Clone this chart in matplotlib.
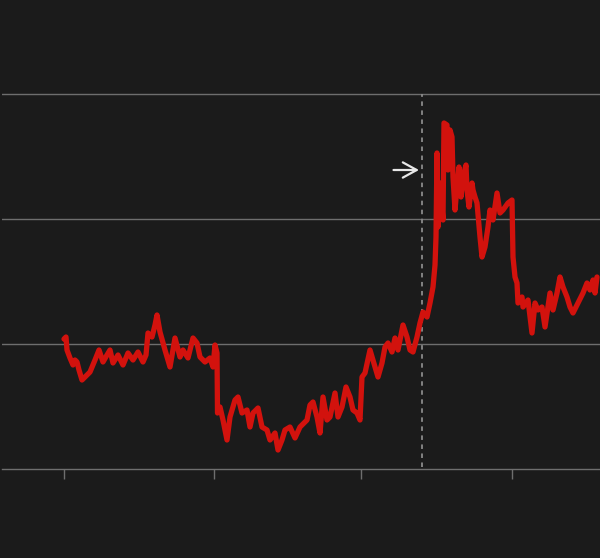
import matplotlib
matplotlib.use("Agg")
import matplotlib.pyplot as plt

# Data (x in time units, y in value units; gridlines every 125)
x = [64, 66, 67, 70, 73, 75, 77, 79, 82, 85, 90, 95, 99, 103, 107, 110, 113, 118, 123, 128,
     133, 138, 143, 146, 148, 152, 155, 157, 160, 165, 170, 175, 180, 183, 188, 193, 197, 200,
     205, 210, 213, 215, 217, 217.5, 220, 223, 227, 230, 235, 238, 242, 247, 250, 253, 258, 262,
     267, 270, 275, 278, 282, 285, 290, 295, 300, 307, 310, 313, 317, 320, 323, 327, 330, 335,
     338, 342, 346, 350, 353, 357, 360, 362, 365, 370, 373, 378, 382, 385, 388, 392, 395, 398,
     403, 407, 410, 413, 417, 420, 423, 427, 430, 433, 435, 436, 437, 438, 440, 443, 444, 447,
     448, 450, 452, 453, 455, 457, 459, 461, 463, 466, 467, 469, 472, 473, 475, 477, 480, 482,
     485, 488, 490, 493, 497, 500, 503, 508, 512, 513, 515, 517, 518, 522, 523, 528, 532, 535,
     538, 542, 545, 550, 553, 557, 560, 563, 567, 570, 573, 578, 583, 587, 590, 593, 595, 597]
y = [130, 132, 119, 111, 104, 109, 107, 99, 89, 92, 97, 109, 119, 107, 114, 119, 106, 114, 104, 116,
     109, 117, 107, 114, 136, 132, 144, 154, 137, 119, 102, 131, 112, 119, 111, 131, 126, 112,
     107, 111, 102, 124, 116, 56, 62, 49, 29, 52, 69, 72, 56, 59, 42, 56, 61, 42,
     39, 29, 36, 19, 29, 39, 42, 31, 42, 49, 64, 67, 52, 36, 72, 49, 52, 76,
     52, 62, 82, 72, 59, 56, 49, 92, 96, 119, 109, 92, 106, 122, 126, 117, 131, 119,
     144, 132, 119, 117, 132, 146, 157, 152, 166, 182, 204, 232, 316, 242, 286, 249, 346, 344,
     299, 339, 332, 292, 259, 282, 302, 272, 292, 304, 279, 262, 286, 279, 272, 266, 232, 212,
     222, 242, 259, 249, 276, 256, 259, 266, 269, 212, 192, 186, 166, 172, 162, 169, 136, 166,
     159, 162, 142, 176, 159, 176, 192, 182, 172, 162, 156, 166, 176, 186, 179, 189, 176, 192]
x_ticks = [64, 214, 361, 512]
y_grid = [125, 250, 375]
event_x = 421.5
arrow_y = 299

BG = "#1b1b1b"
GRID = "#6e6e6e"
RED = "#d2120d"

fig = plt.figure(figsize=(6, 5.58), dpi=100, facecolor=BG)
top_val = 400
ax = fig.add_axes([2 / 600, 89 / 558, 598 / 600, (top_val) / 558])
ax.set_facecolor(BG)
ax.set_xlim(2, 600)
ax.set_ylim(0, top_val)

for gy in y_grid:
    ax.axhline(gy, color=GRID, lw=1.0, zorder=1)

for s in ["top", "right", "left"]:
    ax.spines[s].set_visible(False)
ax.spines["bottom"].set_color(GRID)
ax.spines["bottom"].set_linewidth(1.0)

ax.set_xticks(x_ticks)
ax.set_xticklabels([])
ax.set_yticks([])
ax.tick_params(axis="x", direction="out", length=7.5, width=1.0, color=GRID)

ax.vlines(event_x, 2, 375, colors="#8a8a8a", linestyles=(0, (2.5, 2.5)), lw=1.3, zorder=2)

ax.plot(x, y, color=RED, lw=3.8, solid_joinstyle="round", solid_capstyle="round", zorder=3)

ax.annotate("", xy=(event_x - 2.5, arrow_y), xytext=(event_x - 28, arrow_y),
            arrowprops=dict(arrowstyle="->,head_length=1.0,head_width=0.55",
                            color="#e8e8e8", lw=1.6, shrinkA=0, shrinkB=0), zorder=4)

fig.savefig("out.png", dpi=100, facecolor=BG)
